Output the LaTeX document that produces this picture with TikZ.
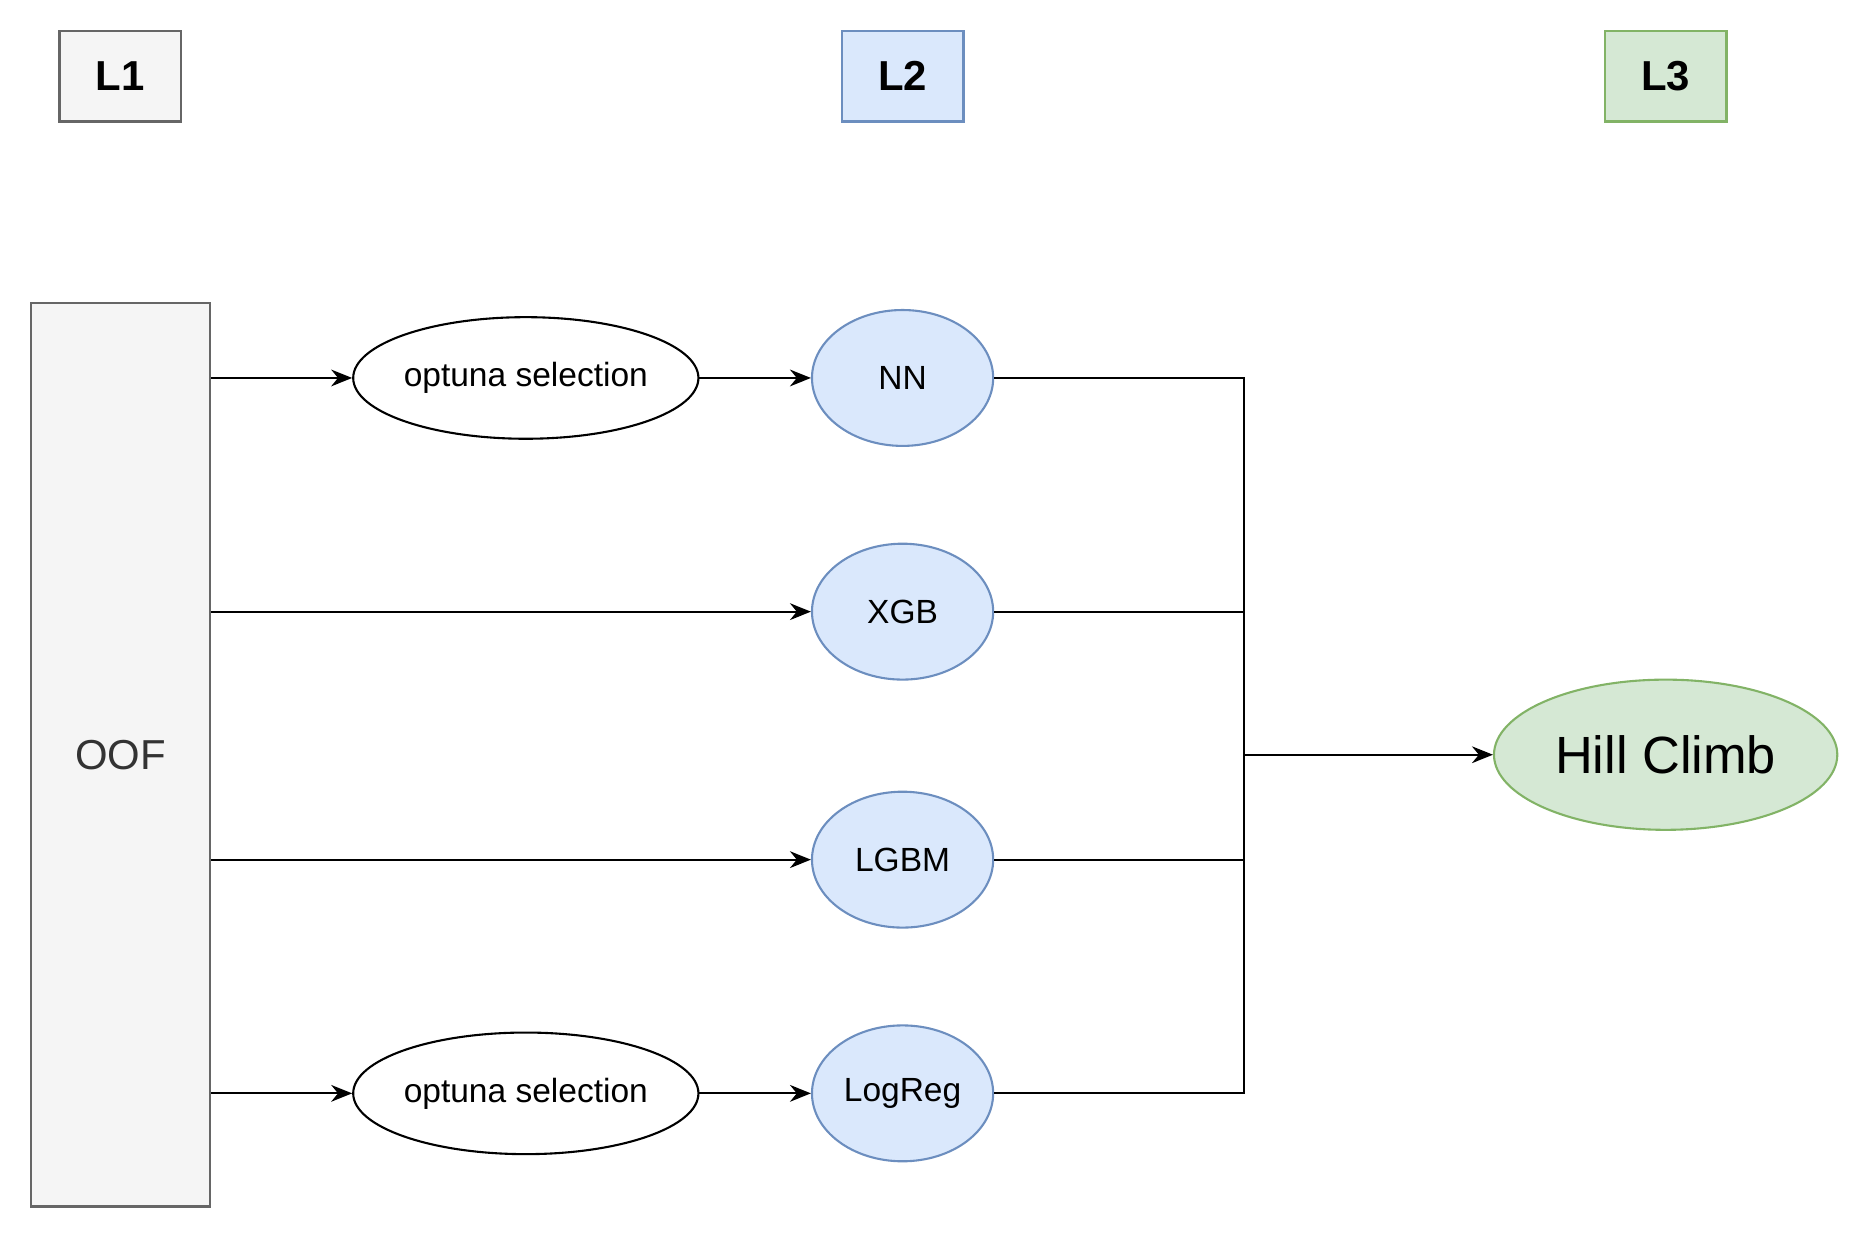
\documentclass[tikz,border=0pt]{standalone}
\usepackage{fontspec}
\setmainfont{Liberation Sans}
\usetikzlibrary{shapes.geometric,arrows.meta}
\definecolor{gfill}{HTML}{F5F5F5}\definecolor{gdraw}{HTML}{666666}
\definecolor{bfill}{HTML}{DAE8FC}\definecolor{bdraw}{HTML}{6C8EBF}
\definecolor{hfill}{HTML}{D5E8D4}\definecolor{hdraw}{HTML}{82B366}
\begin{document}
\begin{tikzpicture}[x=0.02cm,y=-0.02cm,
 lbl/.style={draw,line width=1.2pt,minimum width=2.04cm,minimum height=1.52cm,inner sep=0pt,font=\fontsize{20}{24}\selectfont\bfseries},
 oval/.style={ellipse,draw,line width=1pt,inner sep=0pt,minimum width=5.56cm,minimum height=2.04cm,font=\fontsize{16}{19}\selectfont},
 model/.style={ellipse,draw=bdraw,fill=bfill,line width=1pt,inner sep=0pt,minimum width=3.04cm,minimum height=2.28cm,font=\fontsize{16}{19}\selectfont},
 conn/.style={line width=1pt},
 arr/.style={conn,-{Stealth[length=10pt,width=8pt]}}]
\useasboundingbox (0,0) rectangle (1560,1034);
\node[lbl,fill=gfill,draw=gdraw] (l1) at (101,64) {L1};
\node[lbl,fill=bfill,draw=bdraw] (l2) at (757,64) {L2};
\node[lbl,fill=hfill,draw=hdraw] (l3) at (1397,64) {L3};
\node[draw=gdraw,fill=gfill,line width=1.2pt,minimum width=3cm,minimum height=15.16cm,inner sep=0pt,font=\fontsize{20}{24}\selectfont,text=black!80] (oof) at (101,633) {OOF};
\node[oval] (o1) at (441,317) {optuna selection};
\node[oval] (o2) at (441,917) {optuna selection};
\node[model] (nn) at (757,317) {NN};
\node[model] (xgb) at (757,513) {XGB};
\node[model] (lgbm) at (757,721) {LGBM};
\node[model] (lr) at (757,917) {LogReg};
\node[ellipse,draw=hdraw,fill=hfill,line width=1pt,inner sep=0pt,minimum width=5.76cm,minimum height=2.52cm,font=\fontsize{25}{30}\selectfont] (hc) at (1397,633) {Hill Climb};
\coordinate (j) at (1043,633);
\draw[arr] (oof.east |- o1) -- (o1);
\draw[arr] (o1) -- (nn);
\draw[arr] (oof.east |- xgb) -- (xgb);
\draw[arr] (oof.east |- lgbm) -- (lgbm);
\draw[arr] (oof.east |- o2) -- (o2);
\draw[arr] (o2) -- (lr);
\draw[conn] (nn.east) -| (j);
\draw[conn] (lr.east) -| (j);
\draw[conn] (xgb.east) -- (xgb.east -| j);
\draw[conn] (lgbm.east) -- (lgbm.east -| j);
\draw[arr] (j) -- (hc);
\end{tikzpicture}
\end{document}
